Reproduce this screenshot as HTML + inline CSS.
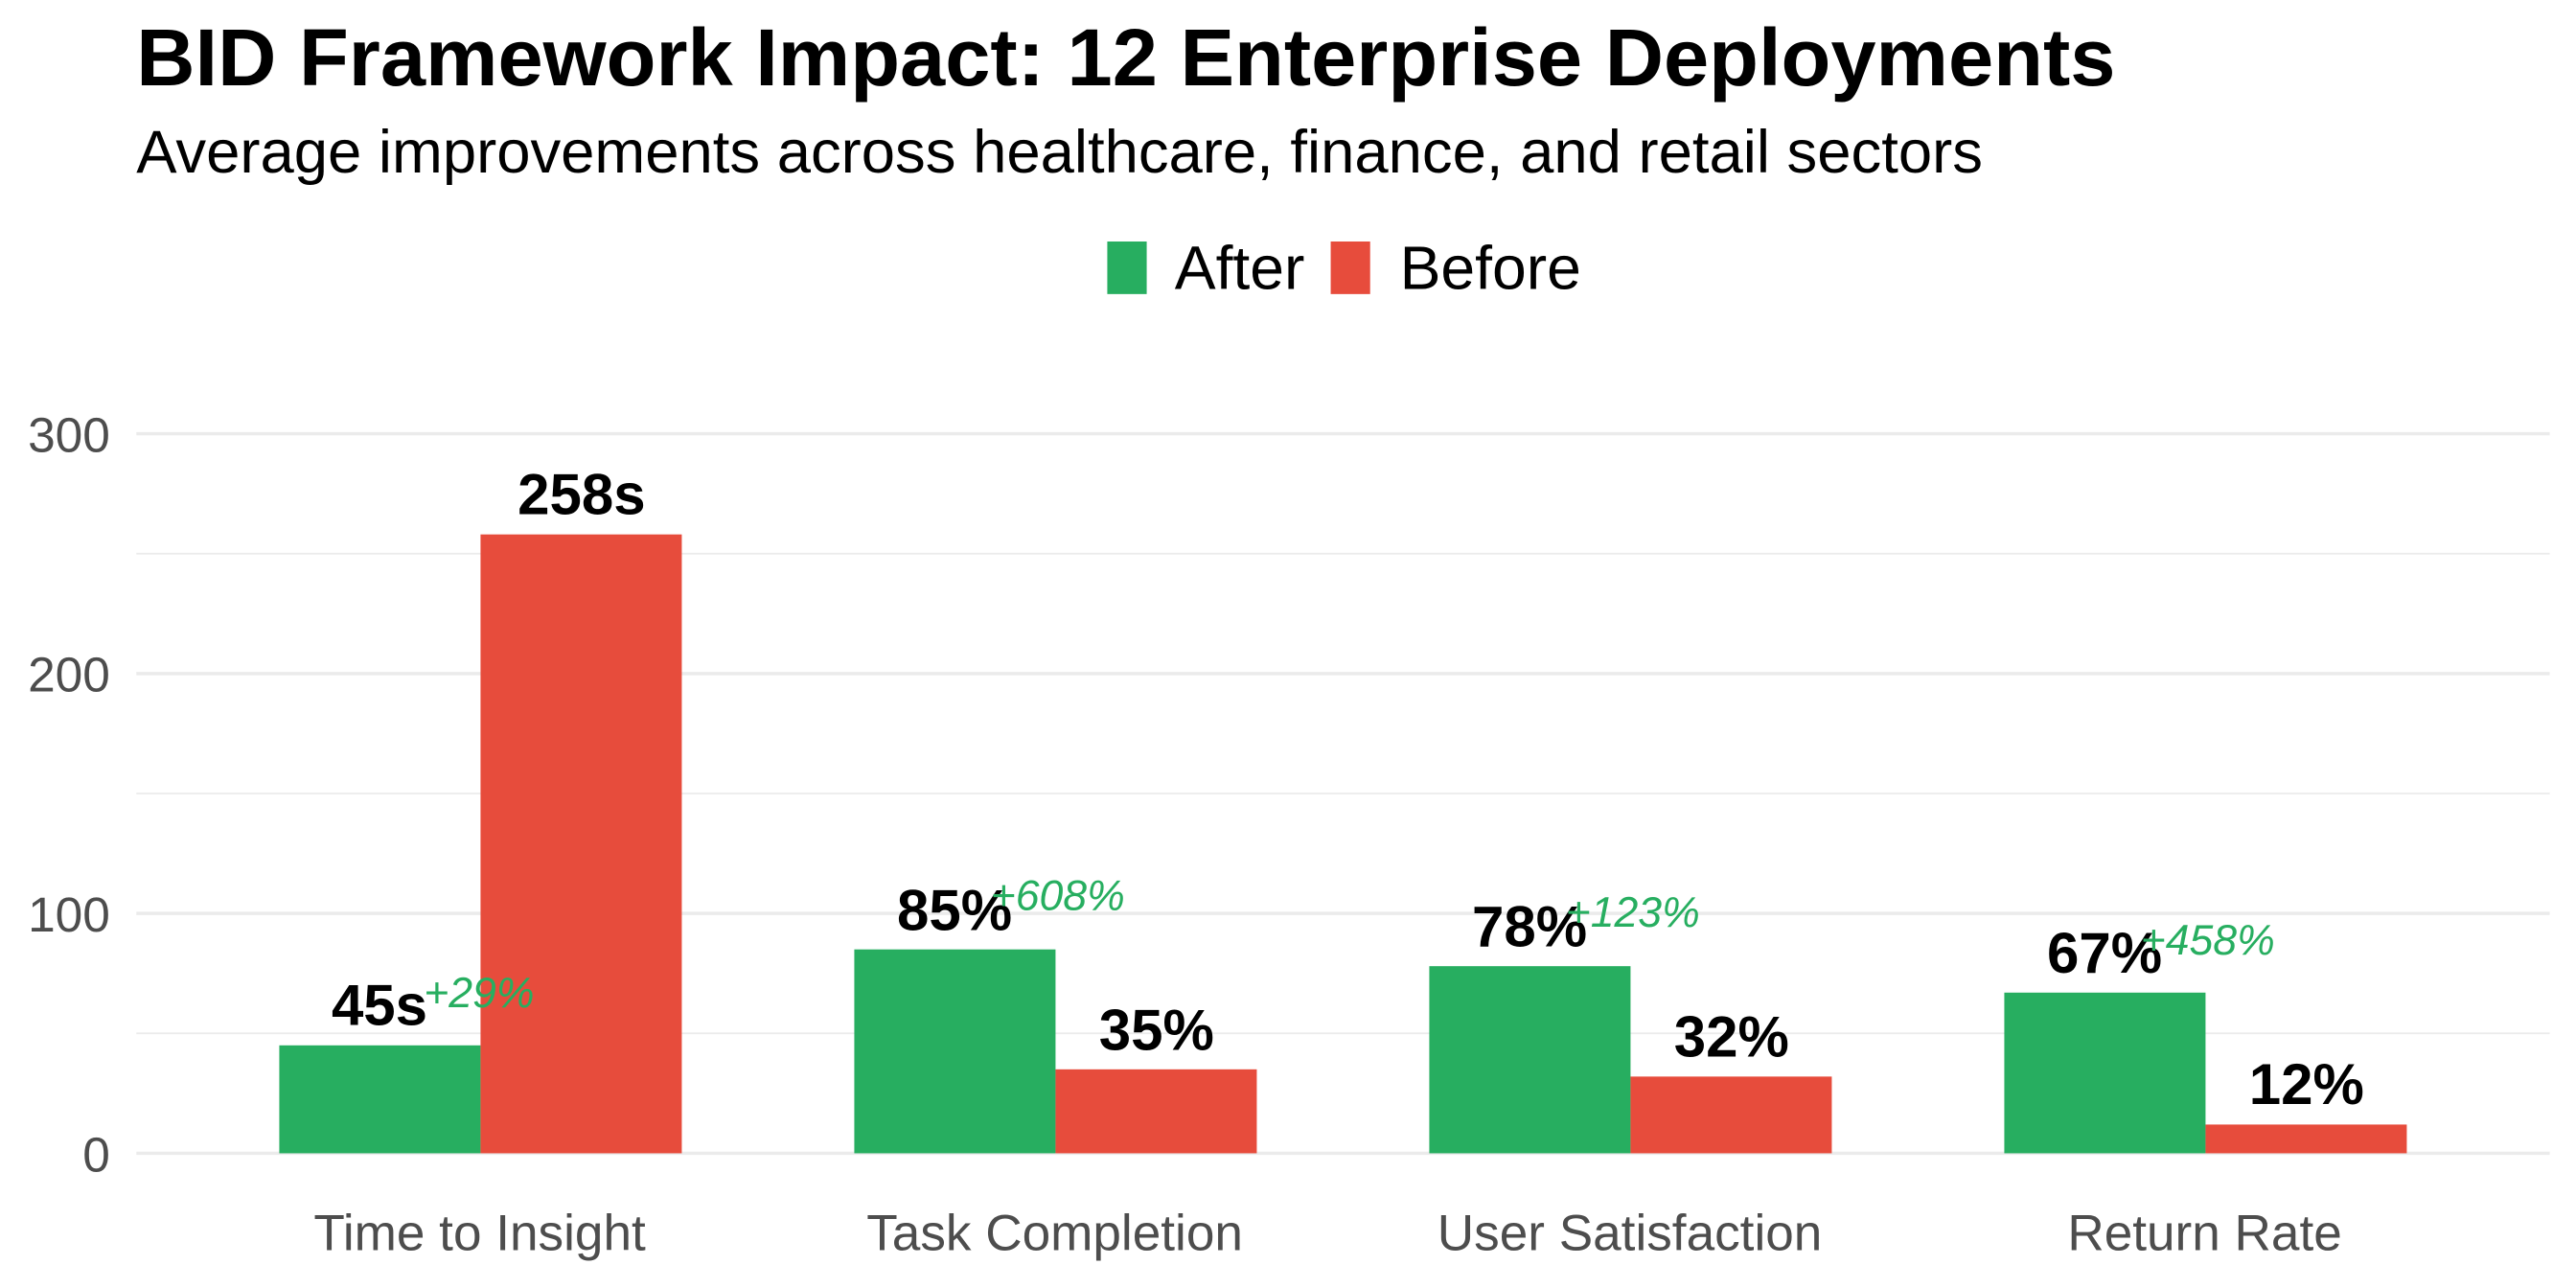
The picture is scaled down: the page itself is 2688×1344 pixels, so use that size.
<!DOCTYPE html>
<html><head><meta charset="utf-8"><style>
html,body{margin:0;padding:0;background:#fff;}
svg{display:block;}
text{font-family:"Liberation Sans",sans-serif;}
</style></head><body>
<svg width="2688" height="1344" viewBox="0 0 1568 784" xmlns="http://www.w3.org/2000/svg">
<rect width="1568" height="784" fill="#fff"/>
<text x="83" y="52" font-size="49.5" font-weight="bold" fill="#000">BID Framework Impact: 12 Enterprise Deployments</text>
<text x="83" y="105" font-size="37" fill="#000">Average improvements across healthcare, finance, and retail sectors</text>
<rect x="674" y="147" width="24" height="32" fill="#27ae60"/>
<text x="715" y="176" font-size="37.5" fill="#000">After</text>
<rect x="810" y="147" width="24" height="32" fill="#e74c3c"/>
<text x="852" y="176" font-size="37.5" fill="#000">Before</text>
<g stroke="#ebebeb">
<line x1="83" x2="1552" y1="337" y2="337" stroke-width="1"/>
<line x1="83" x2="1552" y1="483" y2="483" stroke-width="1"/>
<line x1="83" x2="1552" y1="629" y2="629" stroke-width="1"/>
<line x1="83" x2="1552" y1="264" y2="264" stroke-width="2"/>
<line x1="83" x2="1552" y1="410" y2="410" stroke-width="2"/>
<line x1="83" x2="1552" y1="556" y2="556" stroke-width="2"/>
<line x1="83" x2="1552" y1="702" y2="702" stroke-width="2"/>
</g>
<g font-size="30" fill="#4d4d4d" text-anchor="end">
<text x="67" y="275">300</text>
<text x="67" y="421">200</text>
<text x="67" y="567">100</text>
<text x="67" y="713">0</text>
</g>
<g fill="#27ae60">
<rect x="170" y="636.3" width="122.5" height="65.7"/>
<rect x="520" y="577.9" width="122.5" height="124.1"/>
<rect x="870" y="588.1" width="122.5" height="113.9"/>
<rect x="1220" y="604.2" width="122.5" height="97.8"/>
</g>
<g fill="#e74c3c">
<rect x="292.5" y="325.3" width="122.5" height="376.7"/>
<rect x="642.5" y="650.9" width="122.5" height="51.1"/>
<rect x="992.5" y="655.3" width="122.5" height="46.7"/>
<rect x="1342.5" y="684.5" width="122.5" height="17.5"/>
</g>
<g font-size="35" font-weight="bold" fill="#000" text-anchor="middle">
<text x="231" y="624">45s</text>
<text x="354" y="313">258s</text>
<text x="581" y="566">85%</text>
<text x="704" y="639">35%</text>
<text x="931" y="576">78%</text>
<text x="1054" y="643">32%</text>
<text x="1281" y="592">67%</text>
<text x="1404" y="672">12%</text>
</g>
<g font-size="26" font-style="italic" fill="#27ae60">
<text x="258" y="613">+29%</text>
<text x="603" y="554">+608%</text>
<text x="953" y="564">+123%</text>
<text x="1303" y="581">+458%</text>
</g>
<g font-size="31" fill="#4d4d4d" text-anchor="middle">
<text x="292" y="761">Time to Insight</text>
<text x="642" y="761">Task Completion</text>
<text x="992" y="761">User Satisfaction</text>
<text x="1342" y="761">Return Rate</text>
</g>
</svg>
</body></html>
